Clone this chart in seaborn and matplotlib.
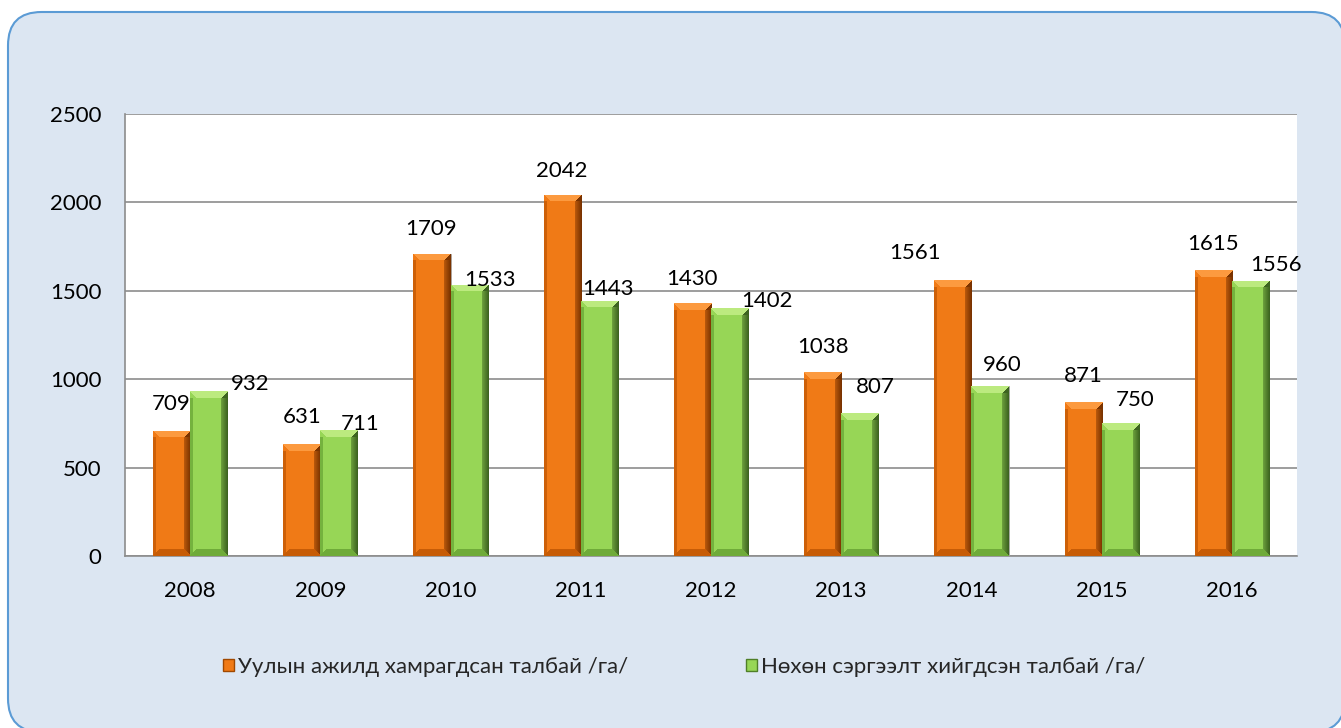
import numpy as np
import pandas as pd
import seaborn as sns
import matplotlib.pyplot as plt
from matplotlib.colors import to_rgb
from matplotlib.patches import FancyBboxPatch, Patch

# data
years = ['2008', '2009', '2010', '2011', '2012', '2013', '2014', '2015', '2016']
mining_area = [709, 631, 1709, 2042, 1430, 1038, 1561, 871, 1615]
restored_area = [932, 711, 1533, 1443, 1402, 807, 960, 750, 1556]
series_names = ['Уулын ажилд хамрагдсан талбай /га/', 'Нөхөн сэргээлт хийгдсэн талбай /га/']

# manual label offsets (pixels, dx / dy up) like the original Excel chart
orange_offsets = [(0, 27), (0, 27), (-1, 25), (0, 24), (0, 24), (0, 25), (-38, 27), (0, 26), (0, 26)]
green_offsets = [(42, 7), (21, 6), (21, 5), (9, 12), (37, 7), (16, 26), (12, 21), (15, 23), (26, 16)]

df = pd.DataFrame({
    'year': years * 2,
    'value': mining_area + restored_area,
    'series': [series_names[0]] * len(years) + [series_names[1]] * len(years),
})

sns.set_style('white')
plt.rcParams['font.family'] = ['Lato', 'Noto Sans', 'DejaVu Sans']

orange = '#F07A16'
green = '#97D656'

fig = plt.figure(figsize=(13.41, 7.28), dpi=100)
fig.patch.set_facecolor('white')

# rounded light-blue chart background
W, H = 1341, 728
bg = FancyBboxPatch((8 / W, -4 / H), 1337 / W, 720 / H,
                    boxstyle='round,pad=0,rounding_size=0.025',
                    transform=fig.transFigure, facecolor='#DCE6F2',
                    edgecolor='#5B9BD5', linewidth=1.5, zorder=-5,
                    mutation_aspect=W / H)
fig.patches.append(bg)

ax = fig.add_axes([125 / W, 1 - 556 / H, 1172 / W, 442 / H])
ax.set_facecolor('white')

sns.barplot(data=df, x='year', y='value', hue='series', palette=[orange, green],
            width=0.57, saturation=1, legend=False, ax=ax, zorder=3)


def bevel_image(base, dark, darker, light, nx, ny, bev=7):
    base, dark, darker, light = (np.array(to_rgb(c)) for c in (base, dark, darker, light))
    img = np.zeros((ny, nx, 3))
    prof = np.tile(base, (nx, 1))
    for i in range(nx):
        if i < 3:
            prof[i] = dark * 0.6 + base * 0.4
        elif i >= nx - 7:
            t = (i - (nx - 7)) / 6
            prof[i] = base * (1 - t) * 0.5 + darker * (0.5 + 0.5 * t)
    img[:] = prof[None, :, :]
    for r in range(min(bev, ny // 2)):
        for c in range(nx):
            if r <= c <= nx - 1 - r:
                img[r, c] = light * 0.8 + base * 0.2
                img[ny - 1 - r, c] = dark * 0.7 + base * 0.3
            elif c < r:
                img[r, c] = base
            else:
                img[r, c] = darker
    return img


px_per_unit = 442 / 2500
styles = [(orange, '#B65000', '#7A3300', '#FFA24A'), (green, '#5E9A2E', '#3D6420', '#C6F08A')]
for cont, st in zip(ax.containers, styles):
    for bar in cont:
        x0, y0 = bar.get_x(), bar.get_y()
        w, h = bar.get_width(), bar.get_height()
        ny = max(int(round(h * px_per_unit)), 2)
        img = bevel_image(st[0], st[1], st[2], st[3], 37, ny)
        im = ax.imshow(img, extent=[x0, x0 + w, y0, y0 + h], aspect='auto',
                       zorder=4, interpolation='nearest')
        im.set_clip_path(bar)
        bar.set_edgecolor('#A0A0A0')
        bar.set_linewidth(0.6)

# value labels
for cont, vals, offs in zip(ax.containers, [mining_area, restored_area], [orange_offsets, green_offsets]):
    for bar, v, (dx, dy) in zip(cont, vals, offs):
        ax.annotate(str(v), (bar.get_x() + bar.get_width() / 2, bar.get_height()),
                    xytext=(dx, dy), textcoords='offset pixels',
                    ha='center', va='center', fontsize=16, color='black', zorder=6)

ax.set_ylim(0, 2500)
ax.set_xlim(-0.5, 8.5)
ax.set_yticks([0, 500, 1000, 1500, 2000, 2500])
ax.yaxis.grid(True, color='#8C8C8C', linewidth=1.2, zorder=1)
ax.set_axisbelow(True)
ax.set_xlabel('')
ax.set_ylabel('')
ax.tick_params(axis='both', length=0, labelsize=16, colors='black')
ax.tick_params(axis='y', pad=17)
ax.tick_params(axis='x', pad=18)
for side in ['top', 'right']:
    ax.spines[side].set_visible(False)
for side in ['left', 'bottom']:
    ax.spines[side].set_color('#8C8C8C')
    ax.spines[side].set_linewidth(1.2)

handles = [Patch(facecolor=orange, edgecolor='#A04800', label=series_names[0]),
           Patch(facecolor=green, edgecolor='#4F7F28', label=series_names[1])]
fig.legend(handles=handles, loc='center', bbox_to_anchor=(684 / W, 1 - 667 / H), ncol=2,
           frameon=False, fontsize=16, handlelength=0.5, handleheight=0.5,
           handletextpad=0.18, columnspacing=5.3)

plt.savefig('out.png', dpi=100, facecolor=fig.get_facecolor())
